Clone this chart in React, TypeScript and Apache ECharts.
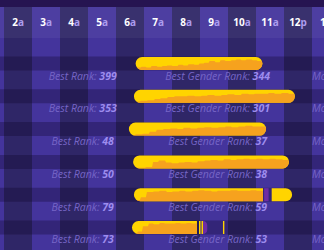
import React, { useEffect, useRef } from 'react';
import * as echarts from 'echarts';

const hourLabels = ['1a', '2a', '3a', '4a', '5a', '6a', '7a', '8a', '9a', '10a', '11a', '12p', '1p'];
const bestRank = [399, 353, 48, 50, 79, 73];
const bestGenderRank = [344, 301, 37, 38, 59, 53];
const barStart = [6.7, 6.64, 6.46, 6.61, 6.64, 6.57];
const barEnd = [11.23, 12.39, 11.36, 12.18, 11.25, 8.89];
const barRoundEnd = [1, 1, 1, 1, 0, 0];
const orangeProfile = [
  [0.2, 0.25, 0.2, 0.3, 0.25, 0.3, 0.35, 0.3, 0.4, 0.35, 0.45, 0.4, 0.5, 0.55, 0.7, 0.6, 0.75, 0.7, 0.75, 0.8, 0.75, 0.8, 0.75, 0.7],
  [0.1, 0.15, 0.2, 0.3, 0.35, 0.45, 0.5, 0.5, 0.55, 0.5, 0.55, 0.6, 0.55, 0.6, 0.65, 0.6, 0.7, 0.65, 0.7, 0.7, 0.75, 0.7, 0.75, 0.7],
  [0.05, 0.1, 0.15, 0.3, 0.45, 0.5, 0.55, 0.5, 0.6, 0.55, 0.6, 0.65, 0.6, 0.65, 0.7, 0.65, 0.7, 0.75, 0.7, 0.7],
  [0.05, 0.05, 0.1, 0.5, 0.6, 0.45, 0.4, 0.45, 0.5, 0.45, 0.55, 0.6, 0.65, 0.6, 0.7, 0.65, 0.7, 0.75, 0.7, 0.75, 0.7, 0.75, 0.7, 0.65],
  [0.1, 0.3, 0.7, 0.75, 0.8, 0.7, 0.75, 0.8, 0.75, 0.8, 0.85, 0.8, 0.75, 0.8, 0.8, 0.85, 0.8, 0.8, 0.85, 0.8],
  [0.05, 0.2, 0.6, 0.8, 0.75, 0.85, 0.8, 0.8, 0.85, 0.8, 0.85, 0.8],
];
const extraRow = [4, 4, 5, 5, 5, 5];
const extraStart = [11.29, 11.56, 8.964, 9.054, 9.107, 9.82];
const extraEnd = [11.45, 12.29, 9.018, 9.107, 9.26, 9.87];
const extraKind = ['purple', 'yellow', 'yellow', 'yellow', 'purple', 'yellow'];
const extraRoundEnd = [0, 1, 0, 0, 1, 0];

const YELLOW = '#ffd400';
const ORANGE = '#f6a21e';
const PURPLE = '#6e2ca3';
const BAR_H = 13;

export default function App() {
  const ref = useRef<HTMLDivElement>(null);
  useEffect(() => {
    if (!ref.current) return;
    const chart = echarts.init(ref.current, null, { renderer: 'svg' });
    const rowIdx = bestRank.map((_, i) => i);
    const option: any = {
      animation: false,
      backgroundColor: '#261451',
      grid: { left: -24, right: -16, top: 7, bottom: 0, outerBoundsMode: 'none', containLabel: false },
      xAxis: [
        {
          type: 'category',
          data: hourLabels,
          position: 'top',
          axisLine: { show: false },
          axisTick: { show: false },
          splitLine: { show: false },
          splitArea: { show: true, interval: 0, areaStyle: { color: ['#44349c', '#2f2667'] } },
          axisLabel: {
            inside: true,
            interval: 0,
            margin: 10,
            formatter: (v: string, i: number) => {
              if (i === 0) return '';
              const m = v.match(/^(\d+)(\w)$/);
              return m ? `{n|${m[1]}}{s|${m[2]}}` : v;
            },
            rich: {
              n: { color: '#ffffff', fontWeight: 'bold', fontSize: 10, fontFamily: 'Noto Sans' },
              s: { color: '#a897ee', fontWeight: 'bold', fontSize: 10, fontFamily: 'Noto Sans' },
            },
          },
        },
        { type: 'value', min: 1, max: 14, show: false },
      ],
      yAxis: { type: 'value', inverse: true, min: -1.7226, max: 5.686, show: false },
      series: [
        {
          type: 'custom',
          xAxisIndex: 1,
          silent: true,
          clip: true,
          data: rowIdx.map((i) => [i]),
          renderItem: (params: any, api: any) => {
            const cs = params.coordSys;
            const [, cy] = api.coord([1, api.value(0)]);
            const children: any[] = [
              { type: 'rect', shape: { x: cs.x, y: cy - 7, width: cs.width, height: 14 }, style: { fill: 'rgba(12,4,38,0.3)' } },
            ];
            if (params.dataIndex === 0) {
              children.push({ type: 'rect', shape: { x: cs.x, y: cs.y, width: cs.width, height: 31 }, style: { fill: 'rgba(255,255,255,0.05)' } });
            }
            return { type: 'group', children };
          },
        },
        {
          type: 'custom',
          xAxisIndex: 1,
          silent: true,
          clip: true,
          data: rowIdx.map((i) => [i, barStart[i], barEnd[i], barRoundEnd[i]]),
          renderItem: (params: any, api: any) => {
            const row = api.value(0);
            const [x0, cy] = api.coord([api.value(1), row]);
            const [x1] = api.coord([api.value(2), row]);
            const roundEnd = api.value(3) === 1;
            const h = BAR_H;
            const r = h / 2;
            const prof = orangeProfile[params.dataIndex];
            const n = prof.length;
            const w = x1 - x0;
            const top: number[][] = [];
            const bot: number[][] = [];
            for (let x = x0; x <= x1 + 0.999; x += 1) {
              const xx = Math.min(x, x1);
              let hh = r;
              if (xx < x0 + r) {
                const d = x0 + r - xx;
                hh = Math.sqrt(Math.max(0, r * r - d * d));
              }
              if (roundEnd && xx > x1 - r) {
                const d = xx - (x1 - r);
                hh = Math.min(hh, Math.sqrt(Math.max(0, r * r - d * d)));
              }
              const k = Math.min(n - 1, Math.floor(((xx - x0) / w) * n));
              const ot = cy + r - prof[k] * h;
              const b = cy + hh;
              const t = Math.min(Math.max(ot, cy - hh), b);
              top.push([xx, t]);
              bot.push([xx, b]);
            }
            const pts = top.concat(bot.reverse());
            return {
              type: 'group',
              children: [
                { type: 'rect', shape: { x: x0, y: cy - r, width: w, height: h, r: [r, roundEnd ? r : 0, roundEnd ? r : 0, r] }, style: { fill: YELLOW } },
                { type: 'polygon', shape: { points: pts }, style: { fill: ORANGE } },
              ],
            };
          },
        },
        {
          type: 'custom',
          xAxisIndex: 1,
          silent: true,
          clip: true,
          data: extraRow.map((r, i) => [r, extraStart[i], extraEnd[i], extraRoundEnd[i]]),
          renderItem: (params: any, api: any) => {
            const row = api.value(0);
            const [x0, cy] = api.coord([api.value(1), row]);
            const [x1] = api.coord([api.value(2), row]);
            const roundEnd = api.value(3) === 1;
            const r = BAR_H / 2;
            const rr = roundEnd ? Math.min(r, x1 - x0) : 0;
            const kind = extraKind[params.dataIndex];
            return {
              type: 'rect',
              shape: { x: x0, y: cy - r, width: x1 - x0, height: BAR_H, r: [0, rr, rr, 0] },
              style: { fill: kind === 'purple' ? PURPLE : YELLOW },
            };
          },
        },
        {
          type: 'custom',
          xAxisIndex: 1,
          silent: true,
          clip: true,
          data: rowIdx.map((i) => [i, bestRank[i], bestGenderRank[i]]),
          renderItem: (params: any, api: any) => {
            const row = api.value(0);
            const [xa, cy] = api.coord([4.81, row]);
            const [xb] = api.coord([9.63, row]);
            const [xc] = api.coord([13.0, row]);
            const y = cy + 12;
            const rich = {
              l: { fontStyle: 'italic', fill: '#7665c6', fontSize: 10.5, fontFamily: 'Open Sans' },
              v: { fontStyle: 'italic', fontWeight: 'bold', fill: '#9d8cee', fontSize: 10.5, fontFamily: 'Open Sans' },
            };
            return {
              type: 'group',
              children: [
                { type: 'text', x: xa, y, style: { text: `{l|Best Rank: }{v|${api.value(1)}}`, rich, align: 'center', verticalAlign: 'middle' } },
                { type: 'text', x: xb, y, style: { text: `{l|Best Gender Rank: }{v|${api.value(2)}}`, rich, align: 'center', verticalAlign: 'middle' } },
                { type: 'text', x: xc, y, style: { text: `{l|Most Popular}`, rich, align: 'left', verticalAlign: 'middle' } },
              ],
            };
          },
        },
      ],
    };
    chart.setOption(option);
    return () => chart.dispose();
  }, []);
  return <div ref={ref} style={{ position: 'fixed', left: 0, top: 0, width: 324, height: 250 }} />;
}
